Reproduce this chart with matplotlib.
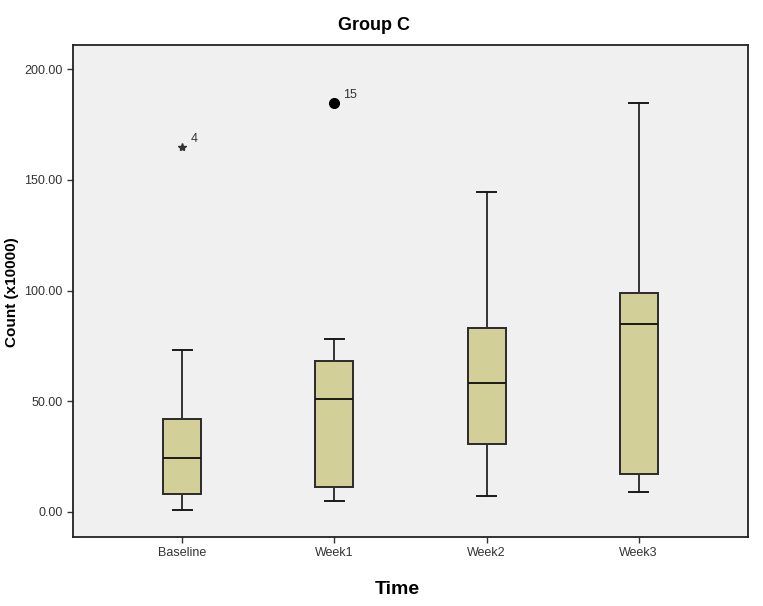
import matplotlib
matplotlib.use("Agg")
import matplotlib.pyplot as plt

plt.rcParams['font.family'] = ['Liberation Sans', 'DejaVu Sans']

# data (units of x10000)
groups = ["Baseline", "Week1", "Week2", "Week3"]
whis_lo = [0.6, 4.8, 7.2, 8.9]
q1 = [7.9, 11.2, 30.5, 17.0]
median = [24.1, 50.8, 58.0, 84.9]
q3 = [41.9, 68.1, 82.9, 99.0]
whis_hi = [73.1, 78.0, 144.6, 184.6]

# outliers: (group index, value, case label, marker)
outlier_group = [0, 1]
outlier_value = [164.7, 184.6]
outlier_label = ["4", "15"]
outlier_marker = ["*", "o"]

yticks = [0, 50, 100, 150, 200]

stats = []
for i, g in enumerate(groups):
    stats.append(dict(label=g, whislo=whis_lo[i], q1=q1[i], med=median[i],
                      q3=q3[i], whishi=whis_hi[i], fliers=[]))

fig = plt.figure(figsize=(7.63, 6.06), dpi=100)
ax = fig.add_axes([73 / 763, 1 - 537 / 606, 675 / 763, 492 / 606])
ax.set_facecolor("#F0F0F0")

pos = list(range(1, len(groups) + 1))
ax.bxp(stats, positions=pos, widths=0.25, patch_artist=True, showfliers=False,
       boxprops=dict(facecolor="#D3CF98", edgecolor="#2a2a2a", linewidth=1.4),
       medianprops=dict(color="#1a1a1a", linewidth=1.4),
       whiskerprops=dict(color="#333333", linewidth=1.4),
       capprops=dict(color="#1a1a1a", linewidth=1.4))

for gi, v, lab, m in zip(outlier_group, outlier_value, outlier_label, outlier_marker):
    if m == "*":
        ax.plot(pos[gi], v, marker="*", color="#333333", markersize=6, linestyle="none")
    else:
        ax.plot(pos[gi], v, marker="o", color="black", markersize=7, linestyle="none")
    ax.annotate(lab, (pos[gi], v), xytext=(6, 4), textcoords="offset points",
                fontsize=9, color="#333333")

ax.set_xlim(0.28, 4.72)
ax.set_ylim(-11.4, 211)
ax.set_yticks(yticks)
ax.set_yticklabels(["%.2f" % t for t in yticks], fontsize=9, color="#333333")
ax.set_xticks(pos)
ax.set_xticklabels(groups, fontsize=9, color="#333333")
ax.tick_params(direction="out", length=4, width=1, color="#333333")

for s in ax.spines.values():
    s.set_linewidth(1.3)
    s.set_color("#222222")

fig.text(374 / 763, 1 - 25 / 606, "Group C", fontsize=13, fontweight="bold",
         ha="center", va="center")
fig.text(12 / 763, 1 - 292 / 606, "Count (x10000)", fontsize=11, fontweight="bold",
         rotation=90, ha="center", va="center")
fig.text(397 / 763, 1 - 589 / 606, "Time", fontsize=14, fontweight="bold",
         ha="center", va="center")

fig.savefig("out.png", dpi=100)
